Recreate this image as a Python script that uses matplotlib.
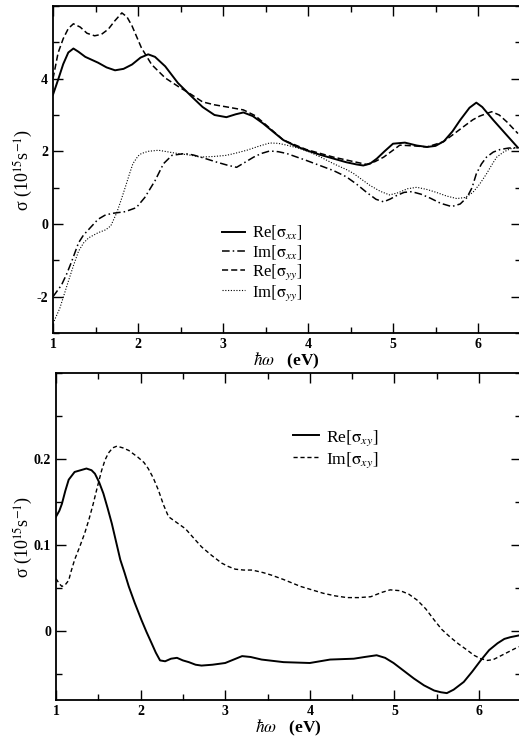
import matplotlib
matplotlib.use("Agg")
import matplotlib.pyplot as plt
from matplotlib.ticker import MultipleLocator

plt.rcParams['font.family'] = ['Liberation Serif', 'DejaVu Serif']
plt.rcParams['mathtext.fontset'] = 'stix'

# ---------------- top panel data ----------------
re_xx_x = [1.0, 1.06, 1.12, 1.18, 1.24, 1.30, 1.38, 1.53, 1.63, 1.73, 1.83, 1.93, 2.03, 2.12, 2.2,
           2.32, 2.47, 2.63, 2.76, 2.9, 3.04, 3.15, 3.24, 3.35, 3.47, 3.6, 3.71, 3.85, 3.98, 4.15,
           4.30, 4.45, 4.57, 4.65, 4.73, 4.81, 4.9, 5.0, 5.14, 5.28, 5.40, 5.5, 5.6, 5.7, 5.79,
           5.9, 5.98, 6.05, 6.18, 6.34, 6.47]
re_xx_y = [3.56, 3.97, 4.4, 4.72, 4.83, 4.74, 4.6, 4.44, 4.31, 4.23, 4.27, 4.39, 4.58, 4.67, 4.6,
           4.34, 3.88, 3.51, 3.22, 3.0, 2.94, 3.02, 3.07, 2.97, 2.77, 2.52, 2.31, 2.15, 2.03, 1.9,
           1.80, 1.70, 1.64, 1.61, 1.66, 1.80, 2.0, 2.21, 2.24, 2.16, 2.12, 2.15, 2.28, 2.55, 2.86,
           3.2, 3.34, 3.22, 2.86, 2.44, 2.10]

re_yy_x = [1.0, 1.06, 1.12, 1.18, 1.24, 1.32, 1.40, 1.49, 1.57, 1.65, 1.73, 1.81, 1.87, 1.93, 2.04,
           2.16, 2.32, 2.47, 2.63, 2.76, 2.9, 3.05, 3.24, 3.38, 3.51, 3.71, 3.98, 4.30, 4.57, 4.69,
           4.79, 4.89, 5.0, 5.08, 5.25, 5.40, 5.59, 5.7, 5.83, 5.94, 6.02, 6.16, 6.25, 6.34, 6.47]
re_yy_y = [4.0, 4.71, 5.1, 5.38, 5.51, 5.42, 5.25, 5.18, 5.22, 5.36, 5.6, 5.81, 5.7, 5.45, 4.85,
           4.39, 4.02, 3.79, 3.56, 3.36, 3.28, 3.22, 3.14, 2.98, 2.72, 2.31, 2.05, 1.84, 1.70, 1.64,
           1.72, 1.84, 2.03, 2.17, 2.15, 2.12, 2.26, 2.45, 2.68, 2.87, 2.97, 3.09, 3.0, 2.81, 2.49]

im_xx_x = [1.0, 1.10, 1.16, 1.22, 1.30, 1.36, 1.42, 1.53, 1.61, 1.69, 1.85, 1.98, 2.08, 2.20, 2.30,
           2.40, 2.55, 2.65, 2.74, 2.93, 3.05, 3.16, 3.26, 3.36, 3.45, 3.55, 3.65, 3.75, 3.98, 4.30,
           4.45, 4.57, 4.69, 4.8, 4.89, 4.97, 5.04, 5.13, 5.22, 5.33, 5.44, 5.56, 5.69, 5.79, 5.87,
           5.93, 5.98, 6.04, 6.10, 6.18, 6.26, 6.36, 6.47]
im_xx_y = [-2.0, -1.68, -1.38, -1.03, -0.52, -0.3, -0.15, 0.13, 0.24, 0.29, 0.34, 0.45, 0.73, 1.19, 1.66,
           1.89, 1.94, 1.9, 1.84, 1.70, 1.62, 1.56, 1.70, 1.84, 1.94, 2.01, 1.99, 1.94, 1.75, 1.47,
           1.3, 1.10, 0.87, 0.68, 0.61, 0.69, 0.78, 0.87, 0.89, 0.82, 0.71, 0.57, 0.48, 0.55, 0.73,
           1.0, 1.38, 1.65, 1.84, 1.98, 2.05, 2.09, 2.10]

im_yy_x = [1.0, 1.08, 1.13, 1.18, 1.24, 1.30, 1.36, 1.42, 1.53, 1.62, 1.68, 1.75, 1.80, 1.85, 1.90,
           1.94, 2.0, 2.04, 2.12, 2.24, 2.44, 2.63, 2.73, 2.9, 3.04, 3.15, 3.28, 3.42, 3.55, 3.65,
           3.75, 3.9, 4.02, 4.15, 4.30, 4.45, 4.53, 4.63, 4.73, 4.85, 4.96, 5.06, 5.17, 5.28, 5.40,
           5.51, 5.63, 5.75, 5.85, 5.94, 6.02, 6.10, 6.16, 6.22, 6.3, 6.38, 6.47]
im_yy_y = [-2.74, -2.32, -1.95, -1.58, -1.15, -0.75, -0.52, -0.38, -0.24, -0.16, -0.05, 0.31, 0.65, 1.01, 1.38,
           1.66, 1.87, 1.94, 2.0, 2.03, 1.95, 1.89, 1.84, 1.86, 1.89, 1.95, 2.03, 2.14, 2.23, 2.22,
           2.17, 2.08, 1.98, 1.84, 1.66, 1.5, 1.40, 1.23, 1.06, 0.9, 0.80, 0.86, 0.97, 1.01, 0.95,
           0.87, 0.77, 0.70, 0.73, 0.87, 1.1, 1.38, 1.62, 1.84, 1.98, 2.07, 2.10]

# ---------------- bottom panel data ----------------
re_xy_x = [1.0, 1.04, 1.07, 1.11, 1.15, 1.22, 1.29, 1.36, 1.42, 1.46, 1.51, 1.56, 1.61, 1.66, 1.71,
           1.76, 1.81, 1.86, 1.93, 2.01, 2.07, 2.13, 2.18, 2.23, 2.29, 2.36, 2.43, 2.5, 2.57, 2.65,
           2.72, 2.85, 3.0, 3.1, 3.20, 3.3, 3.43, 3.69, 4.0, 4.12, 4.24, 4.52, 4.65, 4.79, 4.89,
           4.99, 5.11, 5.23, 5.35, 5.47, 5.55, 5.62, 5.7, 5.82, 5.92, 6.02, 6.12, 6.22, 6.3, 6.37,
           6.47]
re_xy_y = [0.133, 0.14, 0.148, 0.163, 0.176, 0.185, 0.187, 0.189, 0.187, 0.183, 0.173, 0.160, 0.143, 0.125, 0.104,
           0.083, 0.068, 0.052, 0.033, 0.013, -0.001, -0.014, -0.025, -0.034, -0.035, -0.032, -0.031, -0.034, -0.036, -0.039,
           -0.040, -0.039, -0.037, -0.033, -0.029, -0.030, -0.033, -0.036, -0.037, -0.035, -0.033, -0.032, -0.030, -0.028, -0.031,
           -0.037, -0.046, -0.055, -0.063, -0.069, -0.071, -0.072, -0.068, -0.059, -0.047, -0.034, -0.022, -0.014, -0.009, -0.007,
           -0.005]

im_xy_x = [1.0, 1.04, 1.07, 1.11, 1.15, 1.18, 1.22, 1.28, 1.34, 1.39, 1.44, 1.49, 1.54, 1.58, 1.62,
           1.67, 1.72, 1.79, 1.86, 1.97, 2.04, 2.09, 2.15, 2.21, 2.27, 2.33, 2.43, 2.53, 2.62, 2.72,
           2.84, 2.96, 3.04, 3.12, 3.22, 3.32, 3.45, 3.55, 3.69, 3.89, 4.16, 4.30, 4.44, 4.58, 4.72,
           4.85, 4.95, 5.07, 5.17, 5.27, 5.37, 5.47, 5.56, 5.66, 5.76, 5.86, 5.94, 6.02, 6.1, 6.17,
           6.25, 6.33, 6.47]
im_xy_y = [0.061, 0.055, 0.052, 0.054, 0.059, 0.07, 0.083, 0.098, 0.114, 0.13, 0.148, 0.168, 0.187, 0.199, 0.207,
           0.213, 0.215, 0.213, 0.210, 0.202, 0.196, 0.189, 0.178, 0.164, 0.147, 0.133, 0.126, 0.119, 0.109, 0.098,
           0.088, 0.079, 0.075, 0.072, 0.071, 0.071, 0.068, 0.065, 0.060, 0.052, 0.044, 0.041, 0.039, 0.039, 0.040,
           0.045, 0.048, 0.047, 0.043, 0.036, 0.026, 0.013, 0.002, -0.007, -0.015, -0.022, -0.028, -0.032, -0.034, -0.033,
           -0.029, -0.025, -0.018]

labels_top = [r'Re$\left[\mathrm{σ}_{xx}\right]$', r'Im$\left[\mathrm{σ}_{xx}\right]$',
              r'Re$\left[\mathrm{σ}_{yy}\right]$', r'Im$\left[\mathrm{σ}_{yy}\right]$']
labels_bot = [r'Re$\left[\mathrm{σ}_{xy}\right]$', r'Im$\left[\mathrm{σ}_{xy}\right]$']

W, H = 519, 741
fig = plt.figure(figsize=(W / 100, H / 100), dpi=100)

ax1 = fig.add_axes([53 / W, 1 - 333 / H, (520.5 - 53) / W, (333 - 6) / H])
ax2 = fig.add_axes([56 / W, 1 - 700 / H, (521.3 - 56) / W, (700 - 373) / H])

ax1.plot(re_xx_x, re_xx_y, color='black', lw=1.4, ls='-', label=labels_top[0])
ax1.plot(im_xx_x, im_xx_y, color='black', lw=1.1, ls=(0, (5, 2, 1, 2)), label=labels_top[1])
ax1.plot(re_yy_x, re_yy_y, color='black', lw=1.1, ls=(0, (4, 2)), label=labels_top[2])
ax1.plot(im_yy_x, im_yy_y, color='black', lw=0.8, ls=(0, (1, 1.5)), label=labels_top[3])

ax2.plot(re_xy_x, re_xy_y, color='black', lw=1.4, ls='-', label=labels_bot[0])
ax2.plot(im_xy_x, im_xy_y, color='black', lw=1.0, ls=(0, (3, 2)), label=labels_bot[1])

ax1.set_xlim(1, 6.5)
ax1.set_ylim(-3, 6)
ax2.set_xlim(1, 6.5)
ax2.set_ylim(-0.08, 0.30)

for ax in (ax1, ax2):
    ax.xaxis.set_major_locator(MultipleLocator(1))
    ax.xaxis.set_minor_locator(MultipleLocator(0.5))
    ax.tick_params(which='both', direction='in', top=True, right=True, labelsize=10, width=1.0)
    ax.tick_params(which='major', length=7)
    ax.tick_params(which='minor', length=4)
    for s in ax.spines.values():
        s.set_linewidth(1.3)
    ax.set_xlabel(r'$\hbar\omega$   (eV)', fontsize=12.5, fontweight='bold', labelpad=0)

ax1.set_yticks([-2, 0, 2, 4])
ax1.set_yticklabels(['-2', '0', '2', '4'])
ax1.yaxis.set_minor_locator(MultipleLocator(1))
ax2.set_yticks([0, 0.1, 0.2])
ax2.set_yticklabels(['0', '0.1', '0.2'])
ax2.yaxis.set_minor_locator(MultipleLocator(0.05))

for ax in (ax1, ax2):
    for t in ax.get_xticklabels() + ax.get_yticklabels():
        t.set_fontweight('bold')

ylab = r'σ (10$^{15}$s$^{-1}$)'
ax1.set_ylabel(ylab, fontsize=13)
ax2.set_ylabel(ylab, fontsize=13)
ax1.yaxis.set_label_coords(-0.039, 0.5)
ax2.yaxis.set_label_coords(-0.045, 0.5)

ax1.legend(loc='upper left', bbox_to_anchor=(222 / W, 1 - 224 / H), bbox_transform=fig.transFigure,
           frameon=False, fontsize=12, handlelength=1.4, handletextpad=0.4, labelspacing=0.05,
           borderpad=0, borderaxespad=0)
ax2.legend(loc='upper left', bbox_to_anchor=(293 / W, 1 - 428 / H), bbox_transform=fig.transFigure,
           frameon=False, fontsize=12.5, handlelength=1.5, handletextpad=0.4, labelspacing=0.15,
           borderpad=0, borderaxespad=0)

fig.savefig('out.png', dpi=100)
